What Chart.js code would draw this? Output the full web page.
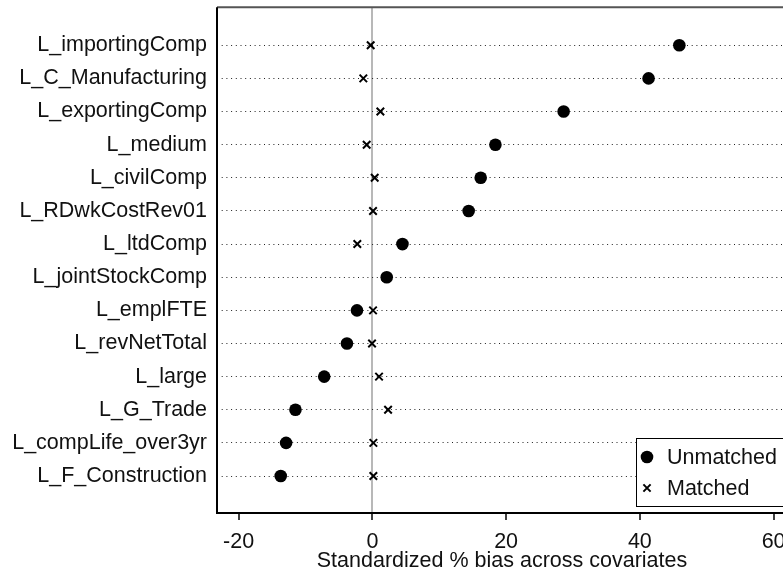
<!DOCTYPE html>
<html><head><meta charset="utf-8">
<script src="https://cdn.jsdelivr.net/npm/chart.js@4"></script>
<style>
html,body{margin:0;padding:0;overflow:hidden;background:#fff;width:783px;height:573px}
#wrap{position:absolute;left:0;top:0;width:800px;height:573px}
</style>
</head><body><div id="wrap"><canvas id="c" width="800" height="573"></canvas></div>
<script>
const categories = ['L_importingComp','L_C_Manufacturing','L_exportingComp','L_medium','L_civilComp','L_RDwkCostRev01','L_ltdComp','L_jointStockComp','L_emplFTE','L_revNetTotal','L_large','L_G_Trade','L_compLife_over3yr','L_F_Construction'];
const unmatched = [45.9, 41.3, 28.6, 18.4, 16.2, 14.4, 4.5, 2.15, -2.3, -3.8, -7.2, -11.5, -12.9, -13.7];
const matched = [-0.25, -1.35, 1.2, -0.85, 0.35, 0.1, -2.25, 2.0, 0.1, -0.05, 1.0, 2.35, 0.15, 0.15];
const xTicks = [-20, 0, 20, 40, 60];
const seriesNames = ['Unmatched', 'Matched'];
const xTitle = 'Standardized % bias across covariates';

const FONT = {family: '"Liberation Sans", Arial, sans-serif', size: 21.5};
const TXT = '#111';

const pts = arr => arr.map((v, i) => ({x: v, y: i + 1}));

const framePlugin = {
  id: 'frame',
  afterDraw(chart) {
    const {ctx, chartArea: a} = chart;
    ctx.save();
    ctx.strokeStyle = '#555';
    ctx.lineWidth = 2;
    ctx.beginPath(); ctx.moveTo(a.left, a.top); ctx.lineTo(a.right, a.top); ctx.stroke();
    ctx.strokeStyle = '#000';
    ctx.beginPath(); ctx.moveTo(a.left, a.top); ctx.lineTo(a.left, a.bottom); ctx.stroke();
    // legend
    const bx = a.right - 151, by = a.bottom - 75, bw = 200, bh = 68;
    ctx.fillStyle = '#fff';
    ctx.fillRect(bx, by, bw, bh);
    ctx.strokeStyle = '#000'; ctx.lineWidth = 1;
    ctx.strokeRect(bx + 0.5, by + 0.5, bw, bh);
    const mx = bx + 11;
    const y1 = by + 19, y2 = by + 50;
    ctx.fillStyle = '#000';
    ctx.beginPath(); ctx.arc(mx, y1, 6.3, 0, Math.PI * 2); ctx.fill();
    ctx.lineWidth = 2;
    ctx.beginPath();
    ctx.moveTo(mx - 3.6, y2 - 3.6); ctx.lineTo(mx + 3.6, y2 + 3.6);
    ctx.moveTo(mx - 3.6, y2 + 3.6); ctx.lineTo(mx + 3.6, y2 - 3.6);
    ctx.stroke();
    ctx.fillStyle = TXT;
    ctx.font = FONT.size + 'px ' + FONT.family;
    ctx.textBaseline = 'middle';
    ctx.textAlign = 'left';
    ctx.fillText(seriesNames[0], bx + 31, y1 + 1);
    ctx.fillText(seriesNames[1], bx + 31, y2 + 1);
    ctx.restore();
  }
};

new Chart(document.getElementById('c'), {
  type: 'scatter',
  data: {
    datasets: [
      {label: seriesNames[0], data: pts(unmatched), pointStyle: 'circle', pointRadius: 6.3, backgroundColor: '#000', borderColor: '#000', borderWidth: 0, pointHoverRadius: 6.3},
      {label: seriesNames[1], data: pts(matched), pointStyle: 'crossRot', pointRadius: 5.3, borderColor: '#000', backgroundColor: '#000', borderWidth: 2, pointHoverRadius: 5.3}
    ]
  },
  options: {
    responsive: false,
    animation: false,
    devicePixelRatio: 1,
    events: [],
    layout: {padding: {left: 0, top: 7, right: 13, bottom: 0}},
    plugins: {legend: {display: false}, tooltip: {enabled: false}},
    scales: {
      x: {
        type: 'linear', min: -23.23, max: 62,
        afterBuildTicks: s => { s.ticks = xTicks.map(v => ({value: v})); },
        afterFit: s => { s.height = 60; s.paddingLeft = 0; s.paddingRight = 0; },
        grid: {
          color: c => (c.tick && c.tick.value === 0) ? '#b8b8b8' : 'rgba(0,0,0,0)',
          lineWidth: 2, drawTicks: true, tickLength: 7, tickColor: '#000', tickWidth: 1.5
        },
        border: {display: true, color: '#000', width: 2},
        ticks: {font: FONT, color: TXT, padding: 9, maxRotation: 0, autoSkip: false},
        title: {display: true, text: xTitle, font: FONT, color: TXT, padding: {top: 0, bottom: -1}}
      },
      y: {
        type: 'linear', reverse: true, min: -0.146, max: 15.116,
        afterBuildTicks: s => { s.ticks = categories.map((c, i) => ({value: i + 1})); },
        afterFit: s => { s.width = 217; s.paddingTop = 0; s.paddingBottom = 0; },
        grid: {color: '#222', lineWidth: 1, drawTicks: false},
        border: {display: false, dash: [1, 3.7]},
        ticks: {font: FONT, color: TXT, padding: 10, autoSkip: false, callback: v => categories[v - 1]}
      }
    }
  },
  plugins: [framePlugin]
});
</script>
</body></html>
